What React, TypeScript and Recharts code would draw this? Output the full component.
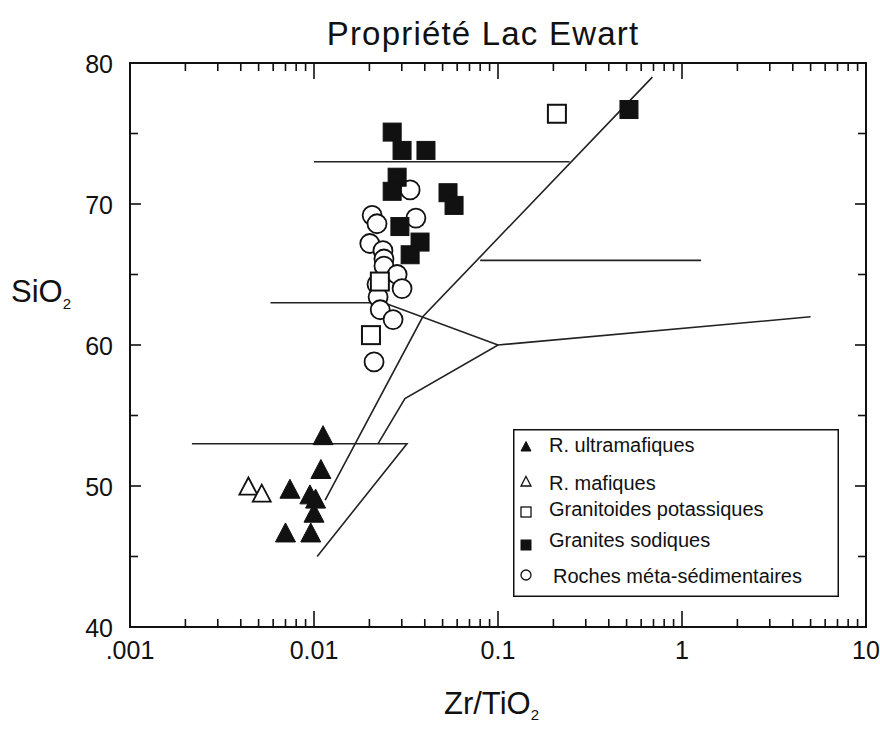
import React from 'react';
import { ScatterChart, Scatter, XAxis, YAxis, Legend, CartesianGrid } from 'recharts';

// axis ticks
const xMajor = [0.001, 0.01, 0.1, 1, 10];
const xMajorLabels = ['.001', '0.01', '0.1', '1', '10'];
const xMinorSteps = [2, 3, 4, 5, 6, 7, 8, 9];
const yTicks = [40, 45, 50, 55, 60, 65, 70, 75, 80];
const yLabelled = [40, 50, 60, 70, 80];

// samples (Zr/TiO2, SiO2)
const ultramafiques = [
  { x: 0.0112, y: 53.5 }, { x: 0.0109, y: 51.1 }, { x: 0.0074, y: 49.7 },
  { x: 0.0095, y: 49.3 }, { x: 0.0102, y: 49.0 }, { x: 0.01, y: 48.0 },
  { x: 0.007, y: 46.6 }, { x: 0.0096, y: 46.6 },
];
const mafiques = [{ x: 0.0044, y: 49.9 }, { x: 0.0052, y: 49.4 }];
const potassiques = [{ x: 0.209, y: 76.4 }, { x: 0.0204, y: 60.7 }, { x: 0.0228, y: 64.5 }];
const sodiques = [
  { x: 0.0266, y: 75.1 }, { x: 0.0301, y: 73.8 }, { x: 0.0406, y: 73.8 },
  { x: 0.0283, y: 71.9 }, { x: 0.0266, y: 70.9 }, { x: 0.0535, y: 70.8 },
  { x: 0.0577, y: 69.9 }, { x: 0.0293, y: 68.4 }, { x: 0.0377, y: 67.3 },
  { x: 0.0333, y: 66.4 }, { x: 0.515, y: 76.7 },
];
const metaSed = [
  { x: 0.0333, y: 71.0 }, { x: 0.0207, y: 69.2 }, { x: 0.022, y: 68.6 },
  { x: 0.0358, y: 69.0 }, { x: 0.0201, y: 67.2 }, { x: 0.0237, y: 66.7 },
  { x: 0.024, y: 66.1 }, { x: 0.024, y: 65.6 }, { x: 0.0283, y: 65.0 },
  { x: 0.0301, y: 64.0 }, { x: 0.022, y: 64.3 }, { x: 0.0223, y: 63.4 },
  { x: 0.0229, y: 62.5 }, { x: 0.0269, y: 61.8 }, { x: 0.0212, y: 58.8 },
];

// field boundaries
const lineA = [{ x: 0.0115, y: 49 }, { x: 0.039, y: 62 }, { x: 0.69, y: 79 }];
const lineB = [{ x: 0.00217, y: 53 }, { x: 0.032, y: 53 }, { x: 0.0104, y: 45 }];
const lineC = [{ x: 0.0223, y: 53 }, { x: 0.0312, y: 56.2 }, { x: 0.1, y: 60 }, { x: 5, y: 62 }];
const lineD = [{ x: 0.0058, y: 63 }, { x: 0.024, y: 63 }, { x: 0.1, y: 60 }];
const lineE = [{ x: 0.01, y: 73 }, { x: 0.245, y: 73 }];
const lineF = [{ x: 0.08, y: 66 }, { x: 1.27, y: 66 }];

const legendLabels = [
  'R. ultramafiques',
  'R. mafiques',
  'Granitoides potassiques',
  'Granites sodiques',
  'Roches méta-sédimentaires',
];

const FONT = '"Liberation Sans", Arial, sans-serif';
const INK = '#111';

const X_MIN = 0.001, X_MAX = 10, Y_MIN = 40, Y_MAX = 80;
const LEFT = 130, TOP = 63, PLOT_W = 736, PLOT_H = 564;

const xTicks = xMajor.flatMap((m, i) =>
  i < xMajor.length - 1 ? [m, ...xMinorSteps.map((s) => s * m)] : [m]
);

function marker(kind: string, cx: number, cy: number, s: number) {
  const h = s / 2;
  if (kind === 'triFill' || kind === 'triOpen') {
    return (
      <polygon
        points={`${cx},${cy - h * 1.1} ${cx + h},${cy + h * 0.8} ${cx - h},${cy + h * 0.8}`}
        fill={kind === 'triFill' ? INK : '#fff'}
        stroke={INK}
        strokeWidth={kind === 'triFill' ? 1 : s > 12 ? 1.8 : 1.3}
      />
    );
  }
  if (kind === 'sqFill' || kind === 'sqOpen') {
    return (
      <rect
        x={cx - h} y={cy - h} width={s} height={s}
        fill={kind === 'sqFill' ? INK : '#fff'}
        stroke={INK}
        strokeWidth={kind === 'sqFill' ? 1 : s > 12 ? 2 : 1.3}
      />
    );
  }
  return <circle cx={cx} cy={cy} r={h} fill="#fff" stroke={INK} strokeWidth={s > 12 ? 1.8 : 1.3} />;
}

const legendKinds = ['triFill', 'triOpen', 'sqOpen', 'sqFill', 'circle'];
const legendMarkerY = [18, 53, 83, 116, 146];
const legendTextY = [23, 61, 87, 118, 154];

const renderLegend = () => (
  <svg width={326} height={168} style={{ display: 'block' }}>
    <rect x={0.75} y={0.75} width={324.5} height={166.5} fill="#fff" stroke={INK} strokeWidth={1.5} />
    {legendLabels.map((label, i) => (
      <g key={label}>
        {marker(legendKinds[i], 13, legendMarkerY[i], 10)}
        <text x={i === 4 ? 40 : 36} y={legendTextY[i]} fontSize={20} fontFamily={FONT} fill={INK}>
          {label}
        </text>
      </g>
    ))}
  </svg>
);

// inward tick marks on the four sides, placed by the chart's scales
const bottomTickPts = xTicks
  .filter((v) => v > X_MIN && v < X_MAX)
  .map((v) => ({ x: v, y: Y_MIN, side: 'b', major: xMajor.indexOf(v) >= 0 }));
const topTickPts = bottomTickPts.map((p) => ({ ...p, y: Y_MAX, side: 't' }));
const leftTickPts = yTicks
  .filter((v) => v > Y_MIN && v < Y_MAX)
  .map((v) => ({ x: X_MIN, y: v, side: 'l', major: yLabelled.indexOf(v) >= 0 }));
const rightTickPts = leftTickPts.map((p) => ({ ...p, x: X_MAX, side: 'r' }));
const tickPts = [...bottomTickPts, ...topTickPts, ...leftTickPts, ...rightTickPts];

const TickMark = (p: any) => {
  const { cx, cy, payload } = p;
  const side = payload.side;
  const long = payload.major;
  if (side === 'b') return <rect x={cx - 0.8} y={cy - (long ? 16 : 8)} width={1.6} height={long ? 16 : 8} fill={INK} />;
  if (side === 't') return <rect x={cx - 0.8} y={cy} width={1.6} height={long ? 16 : 8} fill={INK} />;
  if (side === 'l') return <rect x={cx} y={cy - 0.8} width={long ? 11 : 8} height={1.6} fill={INK} />;
  return <rect x={cx - (long ? 11 : 8)} y={cy - 0.8} width={long ? 11 : 8} height={1.6} fill={INK} />;
};

const BottomTick = (props: any) => {
  const { payload, y } = props;
  const i = xMajor.indexOf(payload.value);
  if (i < 0) return <g />;
  return (
    <text x={payload.coordinate} y={y + 32} textAnchor="middle" fontSize={25} fontFamily={FONT} fill={INK}>
      {xMajorLabels[i]}
    </text>
  );
};

const LeftTick = (props: any) => {
  const { payload, x } = props;
  if (yLabelled.indexOf(payload.value) < 0) return <g />;
  return (
    <text x={x - 17} y={payload.coordinate + 10} textAnchor="end" fontSize={25} fontFamily={FONT} fill={INK}>
      {payload.value}
    </text>
  );
};

const noDot = () => <g />;
const boundaryStyle = { stroke: '#222', strokeWidth: 1.6, fill: 'none' };

export default function App() {
  const axisLine = { stroke: INK, strokeWidth: 2 };
  return (
    <div style={{ position: 'absolute', left: 0, top: 0, width: 880, height: 729, background: '#fff' }}>
      <ScatterChart width={880} height={729} margin={{ top: TOP, right: 880 - LEFT - PLOT_W, bottom: 62, left: 70 }}>
        <CartesianGrid
          stroke={INK} strokeWidth={2}
          horizontalCoordinatesGenerator={({ offset }: any) => [offset.top]}
          verticalCoordinatesGenerator={({ offset }: any) => [offset.left + offset.width]}
        />
        <XAxis
          dataKey="x" type="number" scale="log" domain={[X_MIN, X_MAX]} allowDataOverflow
          ticks={xTicks} interval={0} tickSize={0} tickMargin={0} tickLine={false}
          axisLine={axisLine} height={40} tick={BottomTick}
        />
        <YAxis
          dataKey="y" type="number" domain={[Y_MIN, Y_MAX]} allowDataOverflow
          ticks={yTicks} interval={0} tickSize={0} tickMargin={0} tickLine={false}
          axisLine={axisLine} width={60} tick={LeftTick}
        />

        <Scatter name="graduations" data={tickPts} shape={TickMark} legendType="none" isAnimationActive={false} />

        {[lineA, lineB, lineC, lineD, lineE, lineF].map((d, i) => (
          <Scatter
            key={`b${i}`} name={`limite-${i}`} data={d} line={boundaryStyle} lineType="joint"
            shape={noDot} legendType="none" isAnimationActive={false}
          />
        ))}

        <Scatter name={legendLabels[4]} data={metaSed} isAnimationActive={false}
          shape={(p: any) => marker('circle', p.cx, p.cy, 19)} />
        <Scatter name={legendLabels[2]} data={potassiques} isAnimationActive={false}
          shape={(p: any) => marker('sqOpen', p.cx, p.cy, 18)} />
        <Scatter name={legendLabels[3]} data={sodiques} isAnimationActive={false}
          shape={(p: any) => marker('sqFill', p.cx, p.cy, 18)} />
        <Scatter name={legendLabels[1]} data={mafiques} isAnimationActive={false}
          shape={(p: any) => marker('triOpen', p.cx, p.cy, 18)} />
        <Scatter name={legendLabels[0]} data={ultramafiques} isAnimationActive={false}
          shape={(p: any) => marker('triFill', p.cx, p.cy, 20)} />

        <Legend
          layout="vertical" align="center" verticalAlign="middle" content={renderLegend}
          wrapperStyle={{ position: 'absolute', left: 513, top: 429, width: 326, height: 168 }}
        />
      </ScatterChart>

      {/* plot frame as a bordered box */}
      <div
        style={{
          position: 'absolute', left: LEFT - 1, top: TOP - 1, width: PLOT_W + 2, height: PLOT_H + 2,
          border: '2px solid #111', boxSizing: 'border-box', pointerEvents: 'none',
        }}
      />

      <svg width={880} height={729} style={{ position: 'absolute', left: 0, top: 0, pointerEvents: 'none' }}>
        <text x={483} y={45} textAnchor="middle" fontSize={33} letterSpacing={1.2} fontFamily={FONT} fill={INK}>
          Propriété Lac Ewart
        </text>
        <text x={11} y={302} fontSize={31} fontFamily={FONT} fill={INK}>
          SiO<tspan fontSize={15} dy={7}>2</tspan>
        </text>
        <text x={444} y={714} fontSize={31} fontFamily={FONT} fill={INK}>
          Zr/TiO<tspan fontSize={15} dy={6}>2</tspan>
        </text>
      </svg>
    </div>
  );
}
